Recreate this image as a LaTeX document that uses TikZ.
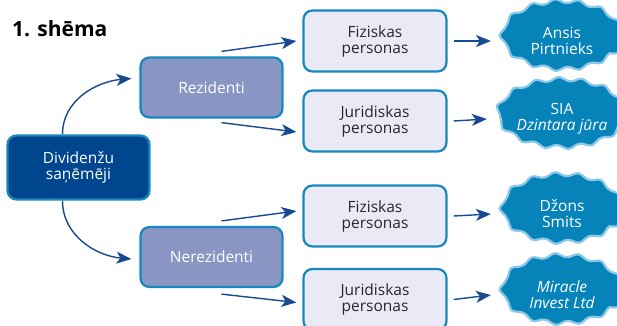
\documentclass[tikz,border=0pt]{standalone}
\usepackage{fontspec}
\setmainfont{Open Sans}
\usetikzlibrary{calc, positioning, arrows.meta, shapes.geometric, decorations.pathmorphing}

\begin{document}
\begin{tikzpicture}[x=1pt,y=-1pt,
    box/.style={rectangle, rounded corners=9pt, line width=2.2pt, align=center,
      inner sep=0pt, font=\fontsize{15.5}{16}\selectfont},
    mainbox/.style={box, draw=rimBlue, fill=navyBlue, text=white,
      minimum width=142pt, minimum height=64pt},
    groupbox/.style={box, draw=rimBlue, fill=lilacBlue, text=white,
      minimum width=142pt, minimum height=60pt},
    personbox/.style={box, draw=rimBlue, fill=paleLilac, text=textGray,
      minimum width=143pt, minimum height=61pt},
    cloudnode/.style={ellipse, draw=cloudRim, fill=cloudBlue, text=white,
      line width=2.2pt, inner sep=0pt, align=center,
      minimum width=120pt, minimum height=68pt,
      font=\fontsize{15.5}{16}\selectfont,
      decorate, decoration={snake, segment length=23pt, amplitude=2pt}},
    link/.style={arrowBlue, line width=1.4pt,
      -{Stealth[length=15pt, width=12pt, inset=4pt]}}]
  \definecolor{navyBlue}{RGB}{0,70,142}
  \definecolor{rimBlue}{RGB}{22,136,190}
  \definecolor{lilacBlue}{RGB}{137,150,196}
  \definecolor{paleLilac}{RGB}{233,234,246}
  \definecolor{textGray}{RGB}{40,40,40}
  \definecolor{cloudBlue}{RGB}{6,132,186}
  \definecolor{cloudRim}{RGB}{140,200,232}
  \definecolor{arrowBlue}{RGB}{24,74,148}
  \useasboundingbox (0,0) rectangle (617,325);

  % title
  \node[anchor=base west, inner sep=0pt, font=\fontsize{21}{23}\bfseries\selectfont]
    (title) at (12,36) {1. shēma};

  % boxes
  \node[mainbox] (div) at (78.5,167.5) {Dividenžu\\saņēmēji};
  \node[groupbox] (rez) at (211.5,87.5) {Rezidenti};
  \node[groupbox] (ner) at (211.5,257) {Nerezidenti};
  \node[personbox] (fizA) at (375,41) {Fiziskas\\personas};
  \node[personbox] (jurA) at (375,121) {Juridiskas\\personas};
  \node[personbox] (fizB) at (375,216) {Fiziskas\\personas};
  \node[personbox] (jurB) at (375,299.5) {Juridiskas\\personas};

  % examples
  \node[cloudnode] (ansis) at (562,41) {Ansis\\Pirtnieks};
  \node[cloudnode] (sia) at (562,119) {SIA\\\itshape Dzintara jūra};
  \node[cloudnode] (dzons) at (562,214) {Džons\\Smits};
  \node[cloudnode] (miracle) at (562,295) {\itshape Miracle\\\itshape Invest Ltd};

  % connectors
  \draw[link] ([xshift=-16pt]div.north) to[out=90, in=185] ([xshift=-8pt,yshift=9pt]rez.west);
  \draw[link] ([xshift=-16pt]div.south) to[out=-90, in=175] ([xshift=-8pt,yshift=-2pt]ner.west);
  \draw[link] ([xshift=10pt,yshift=5pt]rez.north) -- ([xshift=-6pt]fizA.west);
  \draw[link] ([xshift=10pt,yshift=-4pt]rez.south) -- ([xshift=-6pt,yshift=-11pt]jurA.west);
  \draw[link] ([xshift=10pt,yshift=5pt]ner.north) -- ([xshift=-6pt,yshift=5pt]fizB.west);
  \draw[link] ([xshift=10pt,yshift=-6pt]ner.south) -- ([xshift=-6pt,yshift=-3pt]jurB.west);
  \foreach \from/\to in {fizA/ansis, jurA/sia, fizB/dzons, jurB/miracle}
    \draw[link] ([xshift=6pt]\from.east) -- ([xshift=-10pt]\to.west);
\end{tikzpicture}
\end{document}
